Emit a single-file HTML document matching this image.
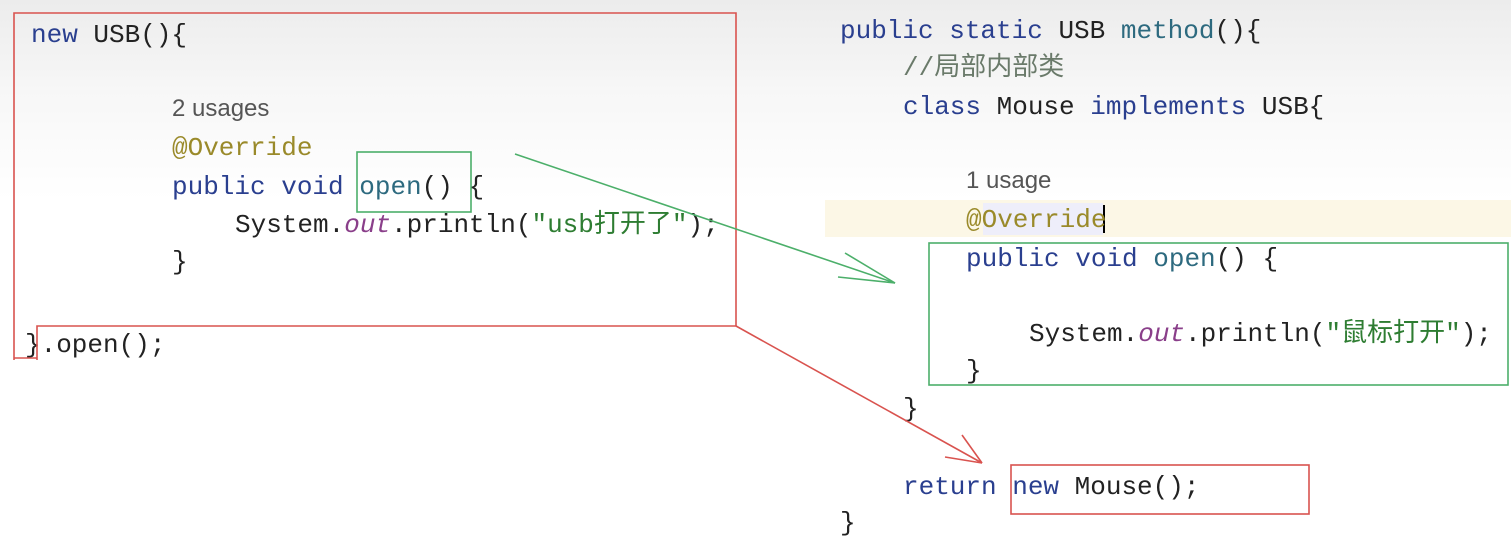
<!DOCTYPE html>
<html><head><meta charset="utf-8"><style>
html,body{margin:0;padding:0}
body{width:1511px;height:546px;position:relative;overflow:hidden;background:linear-gradient(#ececec 0,#f7f7f7 90px,#fff 200px);font-family:"Liberation Mono","Noto Sans CJK SC",monospace;font-size:26px;color:#222}
.l{position:absolute;white-space:pre;line-height:30px;height:30px}
.k{color:#2a3f8f}.m{color:#2d6a7f}.a{color:#9a8a2a}.o{color:#8a3f8a;font-style:italic}.s{color:#2e7d32}.c{color:#6a7a6a}
.u{font-family:"Liberation Sans","Noto Sans CJK SC",sans-serif;color:#555;font-size:24px}
</style></head><body>
<div style="position:absolute;left:825px;top:200px;width:686px;height:37px;background:#fcf7e6"></div>
<div style="position:absolute;left:983px;top:203px;width:120px;height:32px;background:#eeeefa"></div>
<div style="position:absolute;left:1103px;top:205px;width:2px;height:28px;background:#000"></div>

<div class="l" style="left:31px;top:20px"><span class="k">new</span> USB(){</div>
<div class="l u" style="left:172px;top:94px">2 usages</div>
<div class="l a" style="left:172px;top:133px">@Override</div>
<div class="l" style="left:172px;top:172px"><span class="k">public void</span> <span class="m">open</span>() {</div>
<div class="l" style="left:235px;top:210px">System.<span class="o">out</span>.println(<span class="s">"usb打开了"</span>);</div>
<div class="l" style="left:172px;top:247px">}</div>
<div class="l" style="left:25px;top:330px">}.open();</div>

<div class="l" style="left:840px;top:16px"><span class="k">public static</span> USB <span class="m">method</span>(){</div>
<div class="l c" style="left:903px;top:53px">//局部内部类</div>
<div class="l" style="left:903px;top:92px"><span class="k">class</span> Mouse <span class="k">implements</span> USB{</div>
<div class="l u" style="left:966px;top:166px">1 usage</div>
<div class="l a" style="left:966px;top:205px">@Override</div>
<div class="l" style="left:966px;top:244px"><span class="k">public void</span> <span class="m">open</span>() {</div>
<div class="l" style="left:1029px;top:319px">System.<span class="o">out</span>.println(<span class="s">"鼠标打开"</span>);</div>
<div class="l" style="left:966px;top:356px">}</div>
<div class="l" style="left:903px;top:394px">}</div>
<div class="l" style="left:903px;top:472px"><span class="k">return new</span> Mouse();</div>
<div class="l" style="left:840px;top:508px">}</div>

<svg width="1511" height="546" style="position:absolute;left:0;top:0" fill="none">
<g stroke="#d9534f" stroke-width="1.6">
<polyline points="14,360 14,13 736,13 736,326 37,326 37,360"/>
<line x1="14" y1="358" x2="37" y2="358"/>
<line x1="736" y1="326" x2="982" y2="463"/>
<line x1="962" y1="435" x2="982" y2="463"/>
<line x1="945" y1="457" x2="982" y2="463"/>
<rect x="1011" y="465" width="298" height="49"/>
</g>
<g stroke="#4caf6a" stroke-width="1.6">
<rect x="357" y="152" width="114" height="60"/>
<line x1="515" y1="154" x2="895" y2="283"/>
<line x1="845" y1="253" x2="895" y2="283"/>
<line x1="838" y1="277" x2="895" y2="283"/>
<rect x="929" y="243" width="579" height="142"/>
</g>
</svg>
</body></html>
